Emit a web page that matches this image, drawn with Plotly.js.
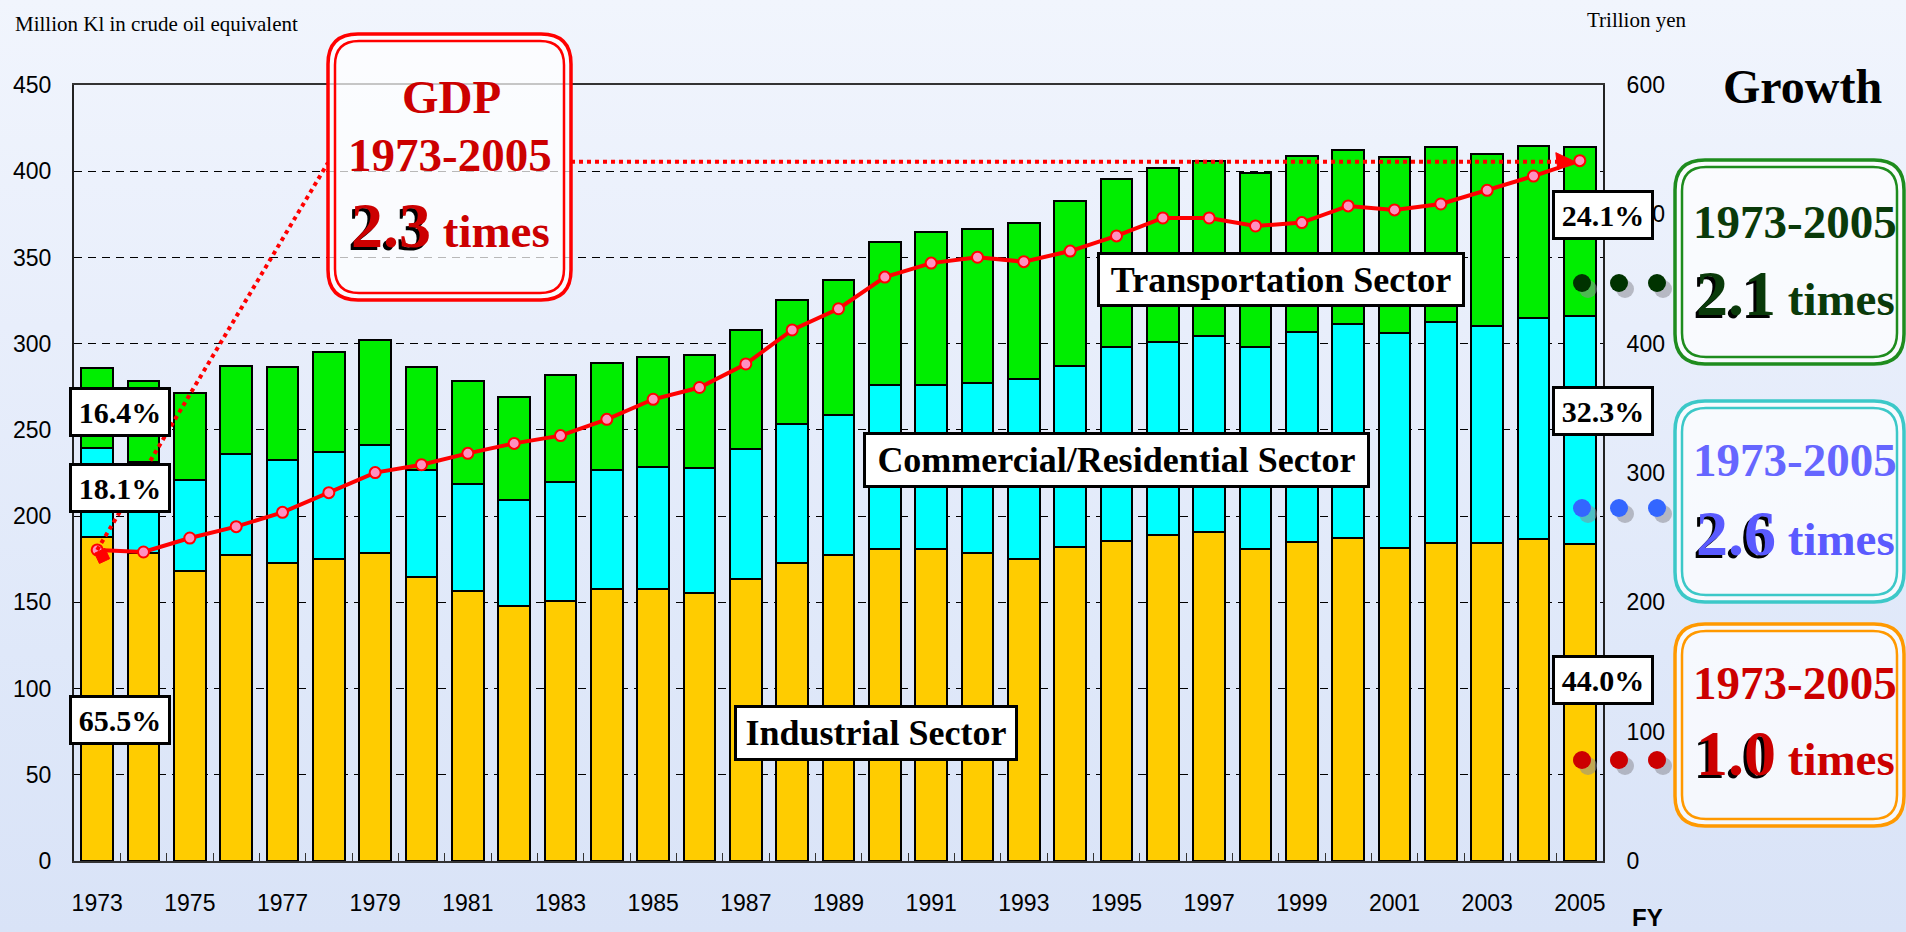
<!DOCTYPE html>
<html><head><meta charset="utf-8">
<script src="https://cdn.plot.ly/plotly-3.0.1.min.js"></script>
<style>
html,body{margin:0;padding:0;}
body{width:1906px;height:932px;overflow:hidden;background:linear-gradient(180deg,#f1f5fd 0%,#e8eefb 35%,#dfe8f9 70%,#d9e3f7 100%);}
#chart{width:1906px;height:932px;}
</style></head><body><div id="chart"></div>
<script>
// ---------- data ----------
const years = [1973,1974,1975,1976,1977,1978,1979,1980,1981,1982,1983,1984,1985,1986,1987,1988,1989,1990,1991,1992,1993,1994,1995,1996,1997,1998,1999,2000,2001,2002,2003,2004,2005];
const industrial = [187.7,178.6,168.4,177.3,172.9,175.2,178.6,164.7,156.6,147.9,150.8,157.6,157.7,155.5,163.7,173.0,177.5,181.0,181.0,178.8,175.2,182.0,185.6,189.1,191.0,181.0,185.0,187.3,181.4,184.7,184.7,186.8,183.7];
const commercial = [52.0,53.0,52.6,58.6,59.7,61.8,62.9,61.9,62.3,61.5,69.0,69.2,70.9,72.5,75.5,80.3,81.4,94.9,94.9,98.3,104.4,105.3,112.3,111.9,113.5,116.9,121.7,124.2,124.6,127.8,125.8,128.0,132.4];
const transport = [46.4,46.8,50.3,51.4,53.9,58.4,60.9,59.9,59.5,59.7,61.9,62.1,63.4,65.2,69.0,72.1,77.9,82.8,88.6,89.5,90.5,95.5,97.5,101.1,101.3,100.8,102.4,100.9,102.2,101.3,99.7,100.1,97.7];
const gdp = [240.5,238.9,249.7,258.5,269.6,284.8,300.3,306.4,315.2,322.9,328.9,341.5,357.0,366.1,384.3,410.6,427.0,451.5,462.3,466.8,463.4,471.6,483.3,497.2,497.2,491.0,493.6,506.5,503.4,508.0,518.6,529.6,541.5];
const xTickYears = [1973,1975,1977,1979,1981,1983,1985,1987,1989,1991,1993,1995,1997,1999,2001,2003,2005];
const sectorNames = ['Industrial Sector','Commercial/Residential Sector','Transportation Sector'];
const shares1973 = ['65.5%','18.1%','16.4%'];
const shares2005 = ['44.0%','32.3%','24.1%'];
const period = '1973-2005';
const gdpGrowth = '2.3';
const sectorGrowth = ['2.1','2.6','1.0']; // transport, commercial, industrial

// ---------- geometry helpers ----------
const W=1906,H=932,L=74,R=1603,T=85,B=861,PW=R-L,PH=B-T;
const fx = px => (px-L)/PW;
const fy = py => (B-py)/PH;
const xPix = yr => L + (yr-(years[0]-0.5))/years.length*PW;
const y2Pix = v => B - v/600*PH;
const SERIF = 'Liberation Serif, Times New Roman, serif';
const SANS = 'Liberation Sans, Arial, sans-serif';

function pt(x,y){return fx(x).toFixed(5)+','+fy(y).toFixed(5);}
function rrPath(x0,y0,x1,y1,r){
  return 'M'+pt(x0+r,y0)+' L'+pt(x1-r,y0)+' Q'+pt(x1,y0)+' '+pt(x1,y0+r)+
    ' L'+pt(x1,y1-r)+' Q'+pt(x1,y1)+' '+pt(x1-r,y1)+' L'+pt(x0+r,y1)+' Q'+pt(x0,y1)+' '+pt(x0,y1-r)+
    ' L'+pt(x0,y0+r)+' Q'+pt(x0,y0)+' '+pt(x0+r,y0)+' Z';
}
const shapes=[], annotations=[];
function box(x0,y0,x1,y1,color){
  shapes.push({type:'path',xref:'paper',yref:'paper',path:rrPath(x0,y0,x1,y1,30),fillcolor:'rgba(255,255,255,0.72)',line:{color:color,width:3.5}});
  shapes.push({type:'path',xref:'paper',yref:'paper',path:rrPath(x0+7,y0+7,x1-7,y1-7,24),fillcolor:'rgba(0,0,0,0)',line:{color:color,width:2.5}});
}
function txt(px,py,text,size,color,extra){
  annotations.push(Object.assign({xref:'paper',yref:'paper',x:fx(px),y:fy(py),text:text,showarrow:false,
    xanchor:'center',yanchor:'middle',font:{family:SERIF,size:size,color:color}},extra||{}));
}
function labelBox(px,py,text,size,w,h){
  annotations.push({xref:'paper',yref:'paper',x:fx(px),y:fy(py),text:'<b>'+text+'</b>',showarrow:false,
    xanchor:'center',yanchor:'middle',font:{family:SERIF,size:size,color:'#000'},
    bgcolor:'#ffffff',bordercolor:'#000000',borderwidth:3,borderpad:2,width:w,height:h});
}
function timesLine(px,py,num,color){
  const s = '<b><span style="font-size:64px">'+num+'</span> times</b>';
  const sh = '<b><span style="font-size:64px">'+num+'</span><span style="color:rgba(0,0,0,0)"> times</span></b>';
  txt(px-3,py+3,sh,47,'#000000');
  txt(px,py,s,47,color);
}
function dots(py,color){
  [1582,1619,1657].forEach(x=>{
    shapes.push({type:'circle',xref:'paper',yref:'paper',x0:fx(x-3),x1:fx(x+15),y0:fy(py-3),y1:fy(py+15),fillcolor:'rgba(140,140,150,0.55)',line:{width:0}});
    shapes.push({type:'circle',xref:'paper',yref:'paper',x0:fx(x-9),x1:fx(x+9),y0:fy(py-9),y1:fy(py+9),fillcolor:color,line:{width:0}});
  });
}

// ---------- GDP callout ----------
const gy = y2Pix(gdp[gdp.length-1]);
shapes.push({type:'line',xref:'paper',yref:'paper',x0:fx(xPix(years[0])),y0:fy(y2Pix(gdp[0])),x1:fx(328),y1:fy(gy+2),line:{color:'#ff0000',width:4,dash:'dot'}});
shapes.push({type:'line',xref:'paper',yref:'paper',x0:fx(571),y0:fy(gy+1),x1:fx(xPix(years[years.length-1])-16),y1:fy(gy+1),line:{color:'#ff0000',width:4,dash:'dot'}});
(function(){ // arrow head at 2005, square tail at 1973
  const tx = xPix(years[years.length-1])-7, ty = gy;
  shapes.push({type:'path',xref:'paper',yref:'paper',path:'M'+pt(tx,ty)+' L'+pt(tx-17,ty-8)+' L'+pt(tx-15,ty+9)+' Z',fillcolor:'#ff0000',line:{color:'#ff0000',width:1}});
  const cx = xPix(years[0])+5, cy = y2Pix(gdp[0])+6, a=0.35, r=8;
  let p='';
  for(let k=0;k<4;k++){const ang=a+k*Math.PI/2; p+=(k?' L':'M')+pt(cx+r*Math.cos(ang),cy+r*Math.sin(ang));}
  shapes.push({type:'path',xref:'paper',yref:'paper',path:p+' Z',fillcolor:'#ff0000',line:{color:'#ff0000',width:1}});
})();
box(328,34,571,300,'#ff0000');
txt(451,97,'<b>GDP</b>',47,'#cc0000');
txt(450,155,'<b>'+period+'</b>',47,'#cc0000');
timesLine(450,225,gdpGrowth,'#cc0000');

// ---------- growth boxes ----------
txt(1802,86,'<b>Growth</b>',48,'#000000');
box(1675,160,1904,364,'#1e8c1e');
txt(1795,222,'<b>'+period+'</b>',47,'#0a3a0a');
timesLine(1795,293,sectorGrowth[0],'#0a3a0a');
dots(283,'#003300');
box(1675,401,1904,602,'#3cc8c8');
txt(1795,460,'<b>'+period+'</b>',47,'#6666ff');
timesLine(1795,533,sectorGrowth[1],'#5a5aff');
dots(508,'#3366ff');
box(1675,624,1904,826,'#ff9900');
txt(1795,683,'<b>'+period+'</b>',47,'#cc0000');
timesLine(1795,753,sectorGrowth[2],'#cc0000');
dots(760,'#cc0000');

// ---------- labels ----------
labelBox(120,720,shares1973[0],30,92,40);
labelBox(120,488,shares1973[1],30,92,40);
labelBox(120,412,shares1973[2],30,92,40);
labelBox(1603,680,shares2005[0],30,92,40);
labelBox(1603,411,shares2005[1],30,92,40);
labelBox(1603,215,shares2005[2],30,92,40);
labelBox(876,733,sectorNames[0],36,274,46);
labelBox(1116,460,sectorNames[1],36,497,46);
labelBox(1281,279,sectorNames[2],36,358,45);

txt(13,24,'Million Kl in crude oil equivalent',21,'#000',{xanchor:'left'});
txt(1636,20,'Trillion yen',21,'#000');
txt(1648,917,'<b>FY</b>',24,'#000',{font:{family:SANS,size:24,color:'#000'}});

// ---------- traces ----------
const barCommon = {type:'bar',x:years,width:0.68,hoverinfo:'skip',showlegend:false};
const traces = [
  Object.assign({},barCommon,{name:sectorNames[0],y:industrial,marker:{color:'#ffcc00',line:{color:'#000',width:2}}}),
  Object.assign({},barCommon,{name:sectorNames[1],y:commercial,marker:{color:'#00ffff',line:{color:'#000',width:2}}}),
  Object.assign({},barCommon,{name:sectorNames[2],y:transport,marker:{color:'#00ee00',line:{color:'#000',width:2}}}),
  {type:'scatter',mode:'lines+markers',x:years,y:gdp,yaxis:'y2',name:'GDP',showlegend:false,
   line:{color:'#ff0000',width:4},marker:{symbol:'circle',size:11,color:'#ff90c0',line:{color:'#ff0000',width:2}}},
  {type:'scatter',x:[],y:[],xaxis:'x2',showlegend:false}
];
const xr = [years[0]-0.5, years[years.length-1]+0.5];
const layout = {
  width:W,height:H,margin:{l:L,r:W-R,t:T,b:H-B,pad:0},
  paper_bgcolor:'rgba(0,0,0,0)',plot_bgcolor:'rgba(0,0,0,0)',
  barmode:'stack',showlegend:false,
  xaxis:{range:xr,tickmode:'array',tickvals:xTickYears,ticktext:xTickYears.map(String),
    ticks:'outside',ticklen:20,tickcolor:'rgba(0,0,0,0)',showgrid:false,zeroline:false,
    showline:true,linecolor:'#333',linewidth:2,mirror:true,
    tickfont:{family:SANS,size:23,color:'#000'}},
  xaxis2:{range:xr,overlaying:'x',side:'bottom',tickmode:'array',tickvals:years.slice(1).map(y=>y-0.5),
    ticks:'inside',ticklen:8,tickcolor:'#333',tickwidth:1,showticklabels:false,showgrid:false,zeroline:false,showline:false},
  yaxis:{range:[0,450],dtick:50,tick0:0,showgrid:true,gridcolor:'#000',griddash:'8px,6px',gridwidth:1,zeroline:false,
    ticks:'outside',ticklen:16,tickcolor:'rgba(0,0,0,0)',showline:true,linecolor:'#222',linewidth:2,mirror:true,
    tickfont:{family:SANS,size:23,color:'#000'}},
  yaxis2:{range:[0,600],dtick:100,tick0:0,overlaying:'y',side:'right',showgrid:false,zeroline:false,
    ticks:'outside',ticklen:18,tickcolor:'rgba(0,0,0,0)',showline:false,
    tickfont:{family:SANS,size:23,color:'#000'}},
  shapes:shapes,annotations:annotations
};
Plotly.newPlot('chart',traces,layout,{displayModeBar:false,staticPlot:true});
</script></body></html>
